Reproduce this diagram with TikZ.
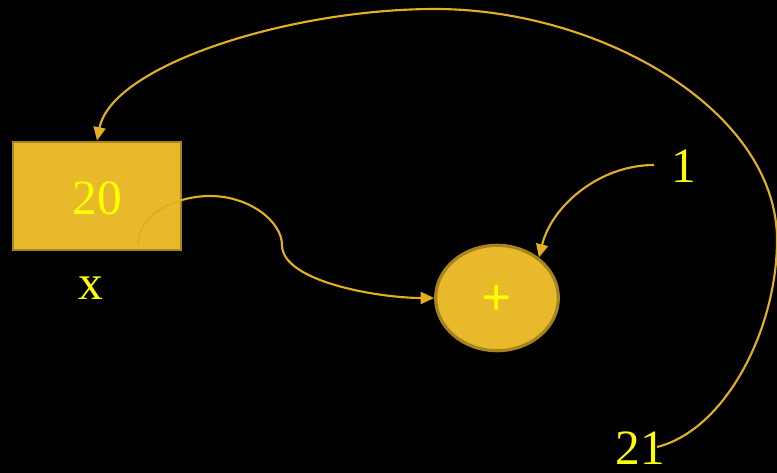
\documentclass[tikz,border=0pt]{standalone}
\usepackage{fontspec}
\setmainfont{Liberation Serif}
\usetikzlibrary{shapes.geometric,arrows.meta}
\definecolor{gold}{HTML}{E8B92A}
\definecolor{golddark}{HTML}{A8841C}
\definecolor{wire}{HTML}{E2AE22}
\definecolor{txt}{HTML}{FFFF00}
\tikzset{
  lbl/.style={text=txt,font=\fontsize{37}{40}\selectfont,inner sep=0pt},
  wirestyle/.style={draw=wire,line width=1.6pt,-{Triangle[length=10pt,width=9pt]}},
}
\begin{document}
\begin{tikzpicture}[x=0.75pt,y=-0.75pt]
\fill[black] (0,0) rectangle (777,473);
\useasboundingbox (0,0) rectangle (777,473);
\node[draw=golddark,fill=gold,line width=2.2pt,minimum width=126pt,minimum height=81pt,inner sep=0pt] (box) at (97,196) {};
\node[lbl] (twenty) at (97,198) {20};
\node[lbl] (xl) at (91,288) {x};
\node[ellipse,draw=golddark,fill=gold,line width=2.4pt,minimum width=92pt,minimum height=79pt,inner sep=0pt] (plus) at (497,298) {};
\node[lbl,font=\fontsize{40}{42}\selectfont\bfseries] (plustxt) at (497,300) {+};
\node[lbl] (one) at (684,166) {1};
\node[lbl] (tw1) at (640,448) {21};
\coordinate (s1) at (138,244);
\coordinate (s2) at (654,165);
\coordinate (s3) at (657,447);
\draw[wirestyle] (s1) .. controls (138,215) and (175,196) .. (210,196)
  .. controls (250,196) and (282,222) .. (282,245)
  .. controls (282,282) and (380,298) .. (plus.west);
\draw[wirestyle] (s2) .. controls (600,165) and (552,205) .. (plus.44);
\draw[wirestyle] (s3) .. controls (725,430) and (777,330) .. (777,240)
  .. controls (777,110) and (600,9) .. (435,9)
  .. controls (290,9) and (112,65) .. (box.north);
\end{tikzpicture}
\end{document}
